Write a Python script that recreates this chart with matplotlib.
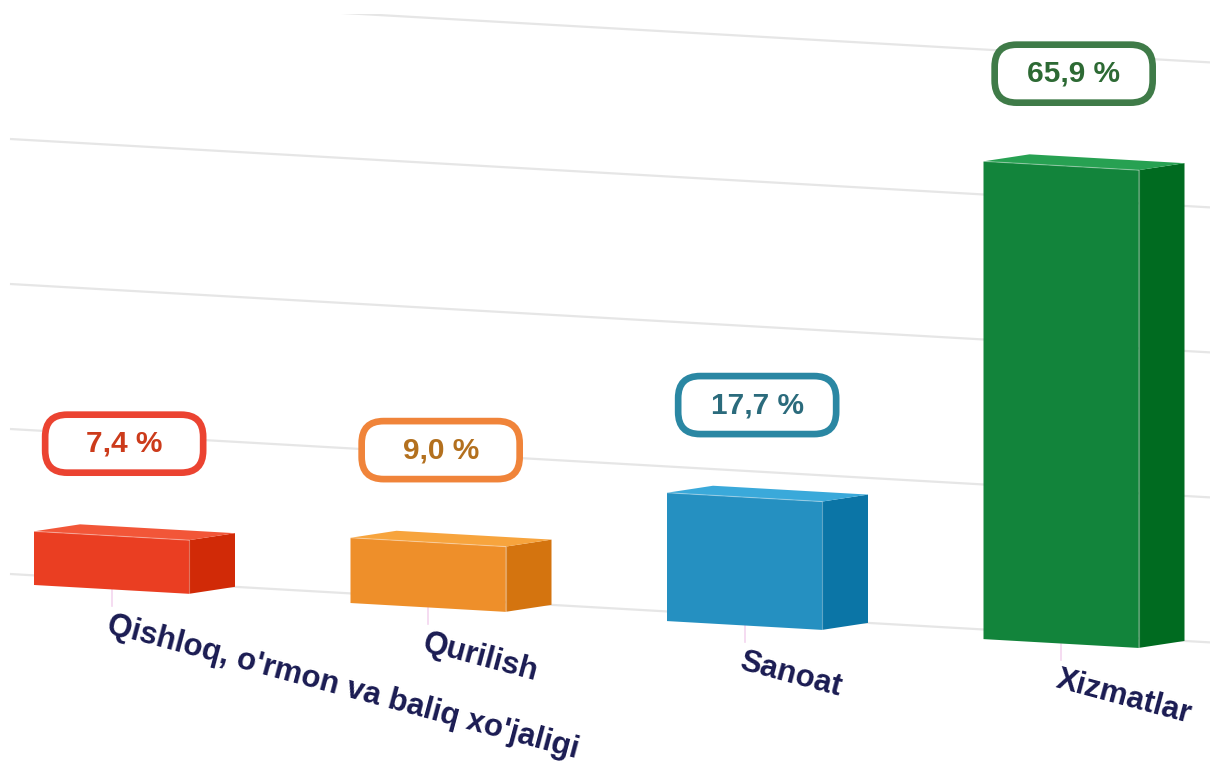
import numpy as np
import matplotlib.pyplot as plt
from matplotlib.patches import Polygon, FancyBboxPatch
from matplotlib.transforms import Affine2D, ScaledTranslation, Bbox

categories = ["Qishloq, o'rmon va baliq xo'jaligi", "Qurilish", "Sanoat", "Xizmatlar"]
values = [7.4, 9.0, 17.7, 65.9]
value_labels = ["7,4 %", "9,0 %", "17,7 %", "65,9 %"]
grid_values = [0, 20, 40, 60, 80]

front_colors = ["#ea3e22", "#ee8f2a", "#2590c1", "#12843b"]
side_colors = ["#d12a07", "#d4740f", "#0b75a6", "#006b20"]
top_colors = ["#f25638", "#f7a43d", "#3aa9da", "#27a152"]
text_colors = ["#cc3b1b", "#b3701e", "#2b6b7c", "#2d6a34"]
box_colors = ["#eb4331", "#f0843a", "#2a87a3", "#3f7b48"]

W, H = 1210, 765
# layout of the tilted chart plane, in pixels
x0_px = 111.5       # centre of first bar
px_per_cat = 316.5
px_per_unit = 7.25
base_px = 175.6     # height of the zero line under the first bar
slope = 0.057       # the plane leans down to the right
depth_px = (46, 7)  # front face -> back face
half_w = 77.5 / px_per_cat

fig = plt.figure(figsize=(W / 100, H / 100), dpi=100)
ax = fig.add_axes([0, 0, 1, 1])
ax.set_xlim(-x0_px / px_per_cat, (W - x0_px) / px_per_cat)
ax.set_ylim(-base_px / px_per_unit, (H - base_px) / px_per_unit)
ax.axis('off')

shear = Affine2D().translate(-x0_px, 0).skew(0, np.arctan(-slope)).translate(x0_px, 0)
T = ax.transData + shear

ddx = depth_px[0] / px_per_cat
ddy = (depth_px[1] + slope * depth_px[0]) / px_per_unit

# grid on the back wall, cut off a little below the top edge
grid_clip = Bbox.from_extents(0, 0, W, H - 14)
gx0 = (10 - depth_px[0] - x0_px) / px_per_cat
for g in grid_values:
    ln, = ax.plot([gx0 + ddx, 3.8 + ddx], [g + ddy, g + ddy], transform=T,
                  color="#e6e6e6", lw=1.6, zorder=1, solid_capstyle='butt')
    ln.set_clip_box(grid_clip)

for i, v in enumerate(values):
    xl, xr = i - half_w, i + half_w
    front = Polygon([(xl, 0), (xr, 0), (xr, v), (xl, v)], closed=True,
                    transform=T, facecolor=front_colors[i], edgecolor='none', zorder=3)
    side = Polygon([(xr, 0), (xr + ddx, ddy), (xr + ddx, v + ddy), (xr, v)], closed=True,
                   transform=T, facecolor=side_colors[i], edgecolor='none', zorder=3)
    top = Polygon([(xl, v), (xr, v), (xr + ddx, v + ddy), (xl + ddx, v + ddy)], closed=True,
                  transform=T, facecolor=top_colors[i], edgecolor='none', zorder=3)
    for p in (side, top, front):
        ax.add_patch(p)
    ax.plot([xr, xr], [0, v], transform=T, color="white", alpha=0.35, lw=0.8, zorder=4)
    ax.plot([xl, xr], [v, v], transform=T, color="white", alpha=0.35, lw=0.8, zorder=4)

    # tick and category label
    ax.plot([i, i], [0, -2.3], transform=T, color="#f3d6ef", lw=1.2, zorder=2)
    ax.text(i, -2.9, categories[i], transform=T, rotation=-15, rotation_mode='anchor',
            ha='left', va='top', fontsize=22.5, fontweight='bold', color="#1a1b52",
            family=['Liberation Sans', 'DejaVu Sans'], zorder=5)

    # value label in a rounded box
    lx, ly = i + 0.04, v + 12.8
    anchor = ScaledTranslation(lx, ly, T)
    box = FancyBboxPatch((-79, -29), 158, 58,
                         boxstyle="round,pad=0,rounding_size=22",
                         transform=Affine2D() + anchor,
                         facecolor="white", edgecolor=box_colors[i], lw=4.8, zorder=6)
    ax.add_patch(box)
    ax.text(lx, ly, value_labels[i], transform=T, ha='center', va='center',
            fontsize=21.5, fontweight='bold', color=text_colors[i],
            family=['Liberation Sans', 'DejaVu Sans'], zorder=7)

fig.savefig("out.png", dpi=100, facecolor="white")
